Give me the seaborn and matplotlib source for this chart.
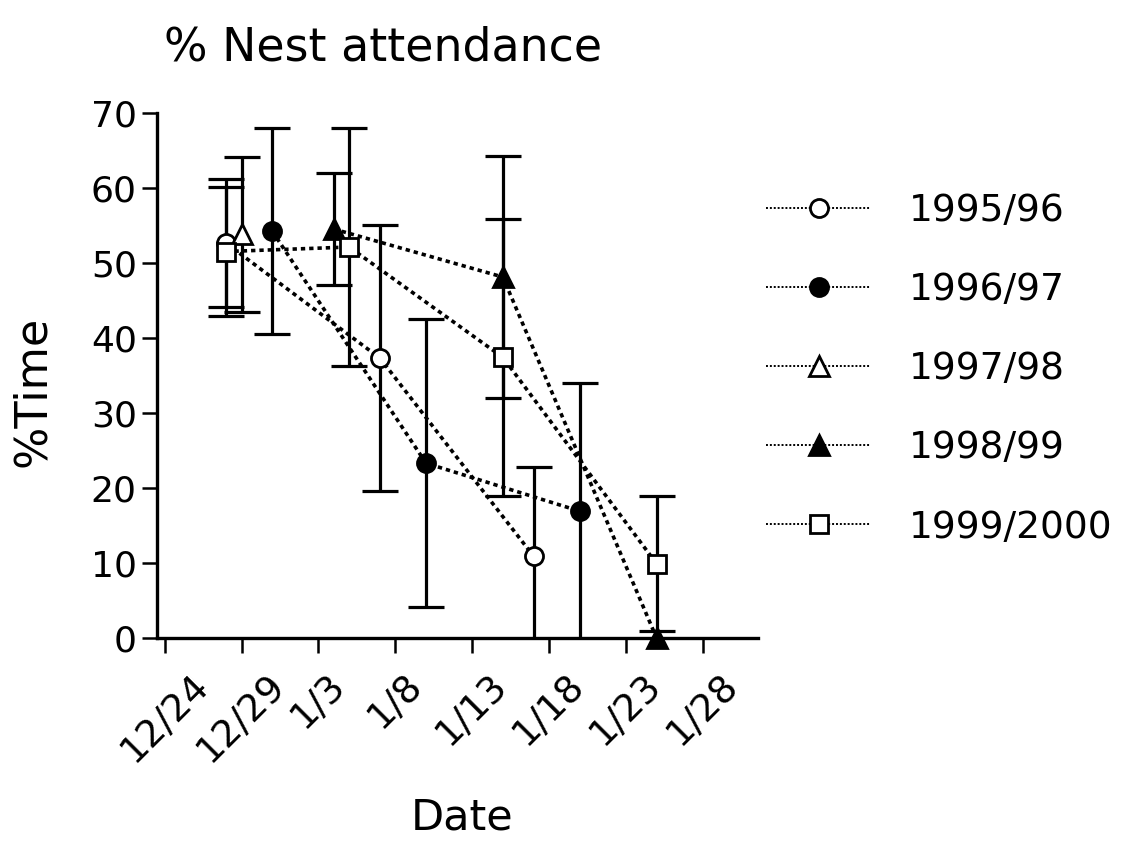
import matplotlib
matplotlib.use("Agg")
import matplotlib.pyplot as plt
import seaborn as sns
import numpy as np
import pandas as pd

# ---- data (days after 12/24) ----
tick_days = [0, 5, 10, 15, 20, 25, 30, 35]
tick_labels = ["12/24", "12/29", "1/3", "1/8", "1/13", "1/18", "1/23", "1/28"]
y_ticks = [0, 10, 20, 30, 40, 50, 60, 70]

season_names = ["1995/96", "1996/97", "1997/98", "1998/99", "1999/2000"]

days_9596 = [4, 14, 24]
mean_9596 = [52.6, 37.3, 10.9]
sd_9596 = [8.5, 17.7, 11.9]

days_9697 = [7, 17, 27]
mean_9697 = [54.2, 23.3, 16.9]
sd_9697 = [13.7, 19.2, 17.1]

days_9798 = [5]
mean_9798 = [53.8]
sd_9798 = [10.3]

days_9899 = [11, 22, 32]
mean_9899 = [54.5, 48.1, 0.0]
sd_9899 = [7.5, 16.1, 0.0]

days_9900 = [4, 12, 22, 32]
mean_9900 = [51.5, 52.1, 37.4, 9.9]
sd_9900 = [8.6, 15.8, 18.5, 9.0]

markers = ["o", "o", "^", "^", "s"]
facecolors = ["white", "black", "white", "black", "white"]
marker_sizes = [13, 13, 14, 14, 12.5]

series = [
    (days_9596, mean_9596, sd_9596),
    (days_9697, mean_9697, sd_9697),
    (days_9798, mean_9798, sd_9798),
    (days_9899, mean_9899, sd_9899),
    (days_9900, mean_9900, sd_9900),
]

sns.set_style("ticks")
plt.rcParams['font.family'] = ['DejaVu Sans']
plt.rcParams['text.color'] = 'black'
plt.rcParams['xtick.color'] = 'black'
plt.rcParams['ytick.color'] = 'black'
plt.rcParams['axes.labelcolor'] = 'black'

W, H = 1134, 843
fig = plt.figure(figsize=(W / 100, H / 100), dpi=100)
ax = fig.add_axes([157 / W, 1 - 638 / H, (758 - 157) / W, (638 - 112.7) / H])

for name, (d, m, s), mk, fc, ms in zip(season_names, series, markers,
                                       facecolors, marker_sizes):
    df = pd.DataFrame({"day": d, "pct": m, "sd": s})
    eb = df[df["sd"] > 0]
    if len(eb):
        ax.errorbar(eb["day"], eb["pct"], yerr=eb["sd"], fmt="none",
                    ecolor="black", elinewidth=2.3, capsize=13, capthick=2.3,
                    zorder=2)
    sns.lineplot(data=df, x="day", y="pct", ax=ax, color="black",
                 linewidth=2.6, linestyle=(0, (1.2, 1.1)), marker=mk,
                 markersize=ms, markerfacecolor=fc, markeredgecolor="black",
                 markeredgewidth=2.0, label=name, clip_on=False, zorder=3,
                 errorbar=None, sort=False)

ax.set_xlim(-0.5, 38.6)
ax.set_ylim(0, 70)
ax.set_xticks(tick_days)
ax.set_xticklabels(tick_labels, rotation=45, ha="center", va="top")
ax.set_yticks(y_ticks)
ax.set_xlabel("")
ax.set_ylabel("")
ax.tick_params(axis="both", direction="out", length=11, width=1.8,
               colors="black")
ax.tick_params(axis="x", pad=10, labelsize=27)
ax.tick_params(axis="y", pad=3.5, labelsize=26)
sns.despine(ax=ax)
for sp in ["left", "bottom"]:
    ax.spines[sp].set_linewidth(2.4)
    ax.spines[sp].set_color("black")

leg = ax.legend(loc="upper left", bbox_to_anchor=(766 / W, 1 - 193 / H),
                bbox_transform=fig.transFigure, frameon=False, fontsize=27,
                handlelength=2.8, handletextpad=1.0, labelspacing=1.15,
                borderaxespad=0, borderpad=0)
for ln in leg.get_lines():
    ln.set_linewidth(1.4)
    ln.set_linestyle((0, (1, 1)))
for t in leg.get_texts():
    t.set_color("black")

fig.text(383 / W, 1 - 48 / H, "% Nest attendance", fontsize=33,
         ha="center", va="center", color="black")
fig.text(33 / W, 1 - 391 / H, "%Time", fontsize=32, rotation=90,
         ha="center", va="center", color="black")
fig.text(462 / W, 1 - 818 / H, "Date", fontsize=31, ha="center",
         va="center", color="black")

fig.savefig("out.png", dpi=100, facecolor="white")
